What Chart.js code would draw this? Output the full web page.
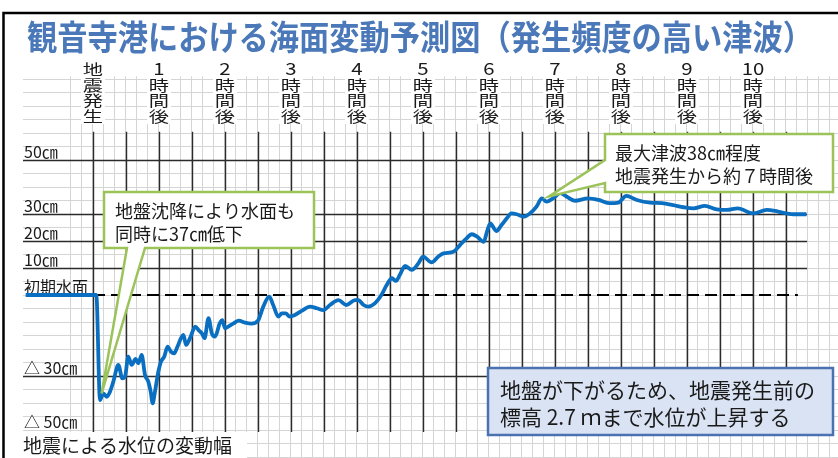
<!DOCTYPE html>
<html>
<head>
<meta charset="utf-8">
<script src="https://cdn.jsdelivr.net/npm/chart.js@4"></script>
<style>
  html, body { margin: 0; padding: 0; background: #fff; }
  canvas { display: block; }
</style>
</head>
<body>
<canvas id="seaChart" width="838" height="458"></canvas>
<script>
// 経過時間（時間）と水位（cm）
const hours = [
  -1.02, 0.05, 0.106, 0.156, 0.207, 0.258, 0.308, 0.384, 0.444, 0.485,
  0.535, 0.586, 0.646, 0.687, 0.737, 0.788, 0.838, 0.874, 0.904, 0.939,
  0.99, 1.03, 1.08, 1.13, 1.18, 1.23, 1.28, 1.37, 1.41, 1.47,
  1.55, 1.60, 1.65, 1.69, 1.75, 1.80, 1.85, 1.92, 1.96, 2.0,
  2.05, 2.13, 2.21, 2.30, 2.40, 2.50, 2.58, 2.67, 2.73, 2.81,
  2.86, 2.92, 2.98, 3.06, 3.16, 3.29, 3.39, 3.49, 3.59, 3.72,
  3.84, 3.97, 4.02, 4.10, 4.17, 4.27, 4.37, 4.45, 4.53, 4.59,
  4.65, 4.73, 4.83, 4.93, 5.0, 5.13, 5.23, 5.31, 5.46, 5.56,
  5.66, 5.74, 5.82, 5.92, 5.97, 6.02, 6.11, 6.19, 6.27, 6.34,
  6.42, 6.52, 6.62, 6.72, 6.80, 6.87, 6.97, 7.08, 7.18, 7.30,
  7.50, 7.66, 7.83, 7.96, 8.08, 8.24, 8.44, 8.62, 8.79, 8.95,
  9.10, 9.27, 9.45, 9.60, 9.77, 10.0, 10.21, 10.38, 10.61, 10.81
];
const levelCm = [
  0, 0, -38.9, -36.4, -37.7, -35.8, -32.1, -25.9, -30.9, -30.2,
  -22.8, -25.9, -23.7, -25.3, -22.2, -29.6, -32.1, -35.8, -40.1, -35.8,
  -28.4, -24.7, -22.8, -19.1, -21.0, -21.6, -19.1, -14.8, -18.5, -16.0,
  -11.7, -13.0, -14.2, -16.0, -8.6, -14.2, -15.4, -10.5, -9.3, -12.3,
  -11.7, -10.5, -9.5, -10.2, -10.6, -9.5, -4.3, -0.6, -3.7, -8.0,
  -6.8, -6.8, -8.0, -7.4, -5.9, -4.3, -4.9, -5.6, -3.7, -1.9,
  -3.7, -1.9, -1.9, -3.7, -4.3, -3.1, 0, 3.7, 6.2, 5.2,
  7.5, 10.8, 9.3, 11.7, 14.2, 12.1, 14.2, 15.4, 16.0, 18.5,
  21.0, 22.5, 21.6, 19.7, 23.5, 26.5, 23.7, 25.9, 28.4, 30.2,
  29.9, 29.0, 30.2, 32.7, 35.8, 34.6, 35.8, 37.7, 36.4, 34.9,
  35.8, 35.2, 34.0, 34.2, 36.7, 35.2, 34.2, 34.0, 33.3, 32.5,
  32.1, 33.0, 31.7, 31.5, 32.1, 30.2, 31.5, 30.9, 29.9, 29.9
];

// 初期水面（破線）
const initialHours = [0, 10.68];
const initialLevel = [0, 0];

// 上部の時間ラベル
const hourTicks = [0, 1, 2, 3, 4, 5, 6, 7, 8, 9, 10];
const hourTickLabels = ["地震発生", "1", "2", "3", "4", "5", "6", "7", "8", "9", "10"];
// 左側の水位ラベル
const levelTicks = [50, 30, 20, 10, 0, -30, -50];
const levelTickLabels = ["50㎝", "30㎝", "20㎝", "10㎝", "初期水面", "△ 30㎝", "△ 50㎝"];
// 太い罫線
const majorHours = [0, 0.5, 1, 1.5, 2, 2.5, 3, 3.5, 4, 4.5, 5, 5.5, 6, 6.5, 7, 7.5, 8, 8.5, 9, 9.5, 10, 10.5];
const majorLevels = [50, 30, 20, 10, -30];

const FONT = '"Noto Sans CJK JP", "Noto Sans", sans-serif';
const TEXT = '#1a1a1a';

const drawPlugin = {
  id: 'seaDecor',
  beforeDatasetsDraw(chart) {
    const { ctx, chartArea, scales: { x, y } } = chart;
    ctx.save();
    ctx.strokeStyle = '#2b2b2b';
    ctx.lineWidth = 1.4;
    const top = y.getPixelForValue(60.5);
    const bottom = y.getPixelForValue(-50.7);
    majorHours.forEach(h => {
      const px = Math.round(x.getPixelForValue(h)) + 0.5;
      ctx.beginPath();
      ctx.moveTo(px, top);
      ctx.lineTo(px, bottom);
      ctx.stroke();
    });
    const right = x.getPixelForValue(10.82);
    majorLevels.forEach(v => {
      const py = Math.round(y.getPixelForValue(v)) + 0.5;
      ctx.beginPath();
      ctx.moveTo(chartArea.left, py);
      ctx.lineTo(right, py);
      ctx.stroke();
    });

    // 時間ラベル（縦書き）
    ctx.fillStyle = TEXT;
    ctx.textAlign = 'center';
    ctx.textBaseline = 'middle';
    const rows = [69, 85, 100.5, 116];
    hourTicks.forEach((h, i) => {
      const px = x.getPixelForValue(h);
      ctx.fillStyle = '#fff';
      ctx.fillRect(px - 12, 61, 24, 63);
      ctx.fillStyle = TEXT;
      const chars = i === 0 ? Array.from(hourTickLabels[i]) : [hourTickLabels[i], '時', '間', '後'];
      chars.forEach((ch, r) => {
        ctx.save();
        ctx.translate(px, rows[r]);
        if (/\d/.test(ch)) {
          ctx.font = '17px ' + FONT;
          ctx.scale(1.2, 1);
        } else {
          ctx.font = '15px ' + FONT;
          ctx.scale(1.35, 1);
        }
        ctx.fillText(ch, 0, 0);
        ctx.restore();
      });
    });

    // 水位ラベル
    ctx.textAlign = 'left';
    ctx.font = '16px ' + FONT;
    levelTicks.forEach((v, i) => {
      const py = y.getPixelForValue(v);
      ctx.fillText(levelTickLabels[i], chartArea.left + 1, py - 8);
    });
    ctx.restore();
  },
  afterDraw(chart) {
    const { ctx, scales: { x, y } } = chart;
    ctx.save();

    // 吹き出し1
    const tip1x = x.getPixelForValue(0.13), tip1y = y.getPixelForValue(-36.5);
    ctx.beginPath();
    ctx.moveTo(104, 192);
    ctx.lineTo(314, 192);
    ctx.lineTo(314, 248);
    ctx.lineTo(145, 248);
    ctx.lineTo(tip1x, tip1y);
    ctx.lineTo(127, 248);
    ctx.lineTo(104, 248);
    ctx.closePath();
    ctx.fillStyle = '#fff';
    ctx.fill();
    ctx.strokeStyle = '#9bc35a';
    ctx.lineWidth = 2.5;
    ctx.lineJoin = 'miter';
    ctx.stroke();

    // 吹き出し2
    const tip2x = x.getPixelForValue(6.91), tip2y = y.getPixelForValue(36.5);
    ctx.beginPath();
    ctx.moveTo(605, 134);
    ctx.lineTo(833, 134);
    ctx.lineTo(833, 192);
    ctx.lineTo(605, 192);
    ctx.lineTo(605, 183);
    ctx.lineTo(tip2x, tip2y);
    ctx.lineTo(605, 160);
    ctx.closePath();
    ctx.fillStyle = '#fff';
    ctx.fill();
    ctx.stroke();

    // 説明ボックス
    ctx.fillStyle = '#dae3f3';
    ctx.fillRect(488, 368, 345, 67);
    ctx.strokeStyle = '#4a72b0';
    ctx.lineWidth = 2.5;
    ctx.strokeRect(488, 368, 345, 67);

    ctx.fillStyle = TEXT;
    ctx.textAlign = 'left';
    ctx.textBaseline = 'middle';
    ctx.font = '18px ' + FONT;
    ctx.fillText('地盤沈降により水面も', 115, 211);
    ctx.fillText('同時に37㎝低下', 115, 234);
    ctx.fillText('最大津波38㎝程度', 615, 153);
    ctx.fillText('地震発生から約７時間後', 615, 176);
    ctx.font = '21px ' + FONT;
    ctx.fillText('地盤が下がるため、地震発生前の', 500, 390, 322);
    ctx.fillText('標高 2.7 ｍまで水位が上昇する', 500, 417);

    // 左下ラベル
    ctx.fillStyle = '#fff';
    ctx.fillRect(0, 432, 247, 26);
    ctx.fillStyle = TEXT;
    ctx.font = '19px ' + FONT;
    ctx.fillText('地震による水位の変動幅', 23, 446);

    // タイトル
    ctx.fillStyle = '#fff';
    ctx.fillRect(0, 0, 838, 60);
    ctx.fillStyle = '#4a78b8';
    ctx.font = 'bold 34px ' + FONT;
    ctx.textAlign = 'center';
    ctx.fillText('観音寺港における海面変動予測図（発生頻度の高い津波）', 420, 37, 786);

    // 枠線
    ctx.strokeStyle = '#000';
    ctx.lineWidth = 2.5;
    ctx.beginPath();
    ctx.moveTo(3.5, 458);
    ctx.lineTo(3.5, 13);
    ctx.lineTo(838, 13);
    ctx.stroke();
    ctx.restore();
  }
};

const minorX = [];
for (let k = -6; k <= 68; k++) minorX.push(k / 6);
const minorY = [];
for (let v = -60; v <= 80; v += 5) minorY.push(v);

const seaChart = document.querySelector('#seaChart');
const graph = new Chart(seaChart, {
  type: 'line',
  data: {
    datasets: [
      {
        data: hours.map((h, i) => ({ x: h, y: levelCm[i] })),
        borderColor: '#0b6fc1',
        borderWidth: 3.8,
        pointRadius: 0,
        cubicInterpolationMode: 'monotone',
        fill: false,
      },
      {
        data: initialHours.map((h, i) => ({ x: h, y: initialLevel[i] })),
        borderColor: '#000',
        borderWidth: 2,
        borderDash: [12, 6],
        pointRadius: 0,
        fill: false,
      },
    ],
  },
  options: {
    responsive: false,
    animation: false,
    events: [],
    layout: { padding: { left: 23, top: 76.3, right: 0, bottom: 0 } },
    plugins: { legend: { display: false }, tooltip: { enabled: false } },
    scales: {
      x: {
        type: 'linear',
        min: -1.0606,
        max: 11.288,
        afterBuildTicks: (scale) => { scale.ticks = minorX.map(v => ({ value: v })); },
        ticks: { display: false },
        border: { display: false },
        grid: {
          drawTicks: false,
          lineWidth: 1,
          color: (c) => (c.tick && c.tick.value < -0.4 ? 'rgba(0,0,0,0)' : '#d5d5d5'),
        },
      },
      y: {
        type: 'linear',
        min: -60.37,
        max: 81,
        afterBuildTicks: (scale) => { scale.ticks = minorY.map(v => ({ value: v })); },
        ticks: { display: false },
        border: { display: false },
        grid: { drawTicks: false, lineWidth: 1, color: '#d5d5d5' },
      },
    },
  },
  plugins: [drawPlugin],
});
</script>
</body>
</html>
